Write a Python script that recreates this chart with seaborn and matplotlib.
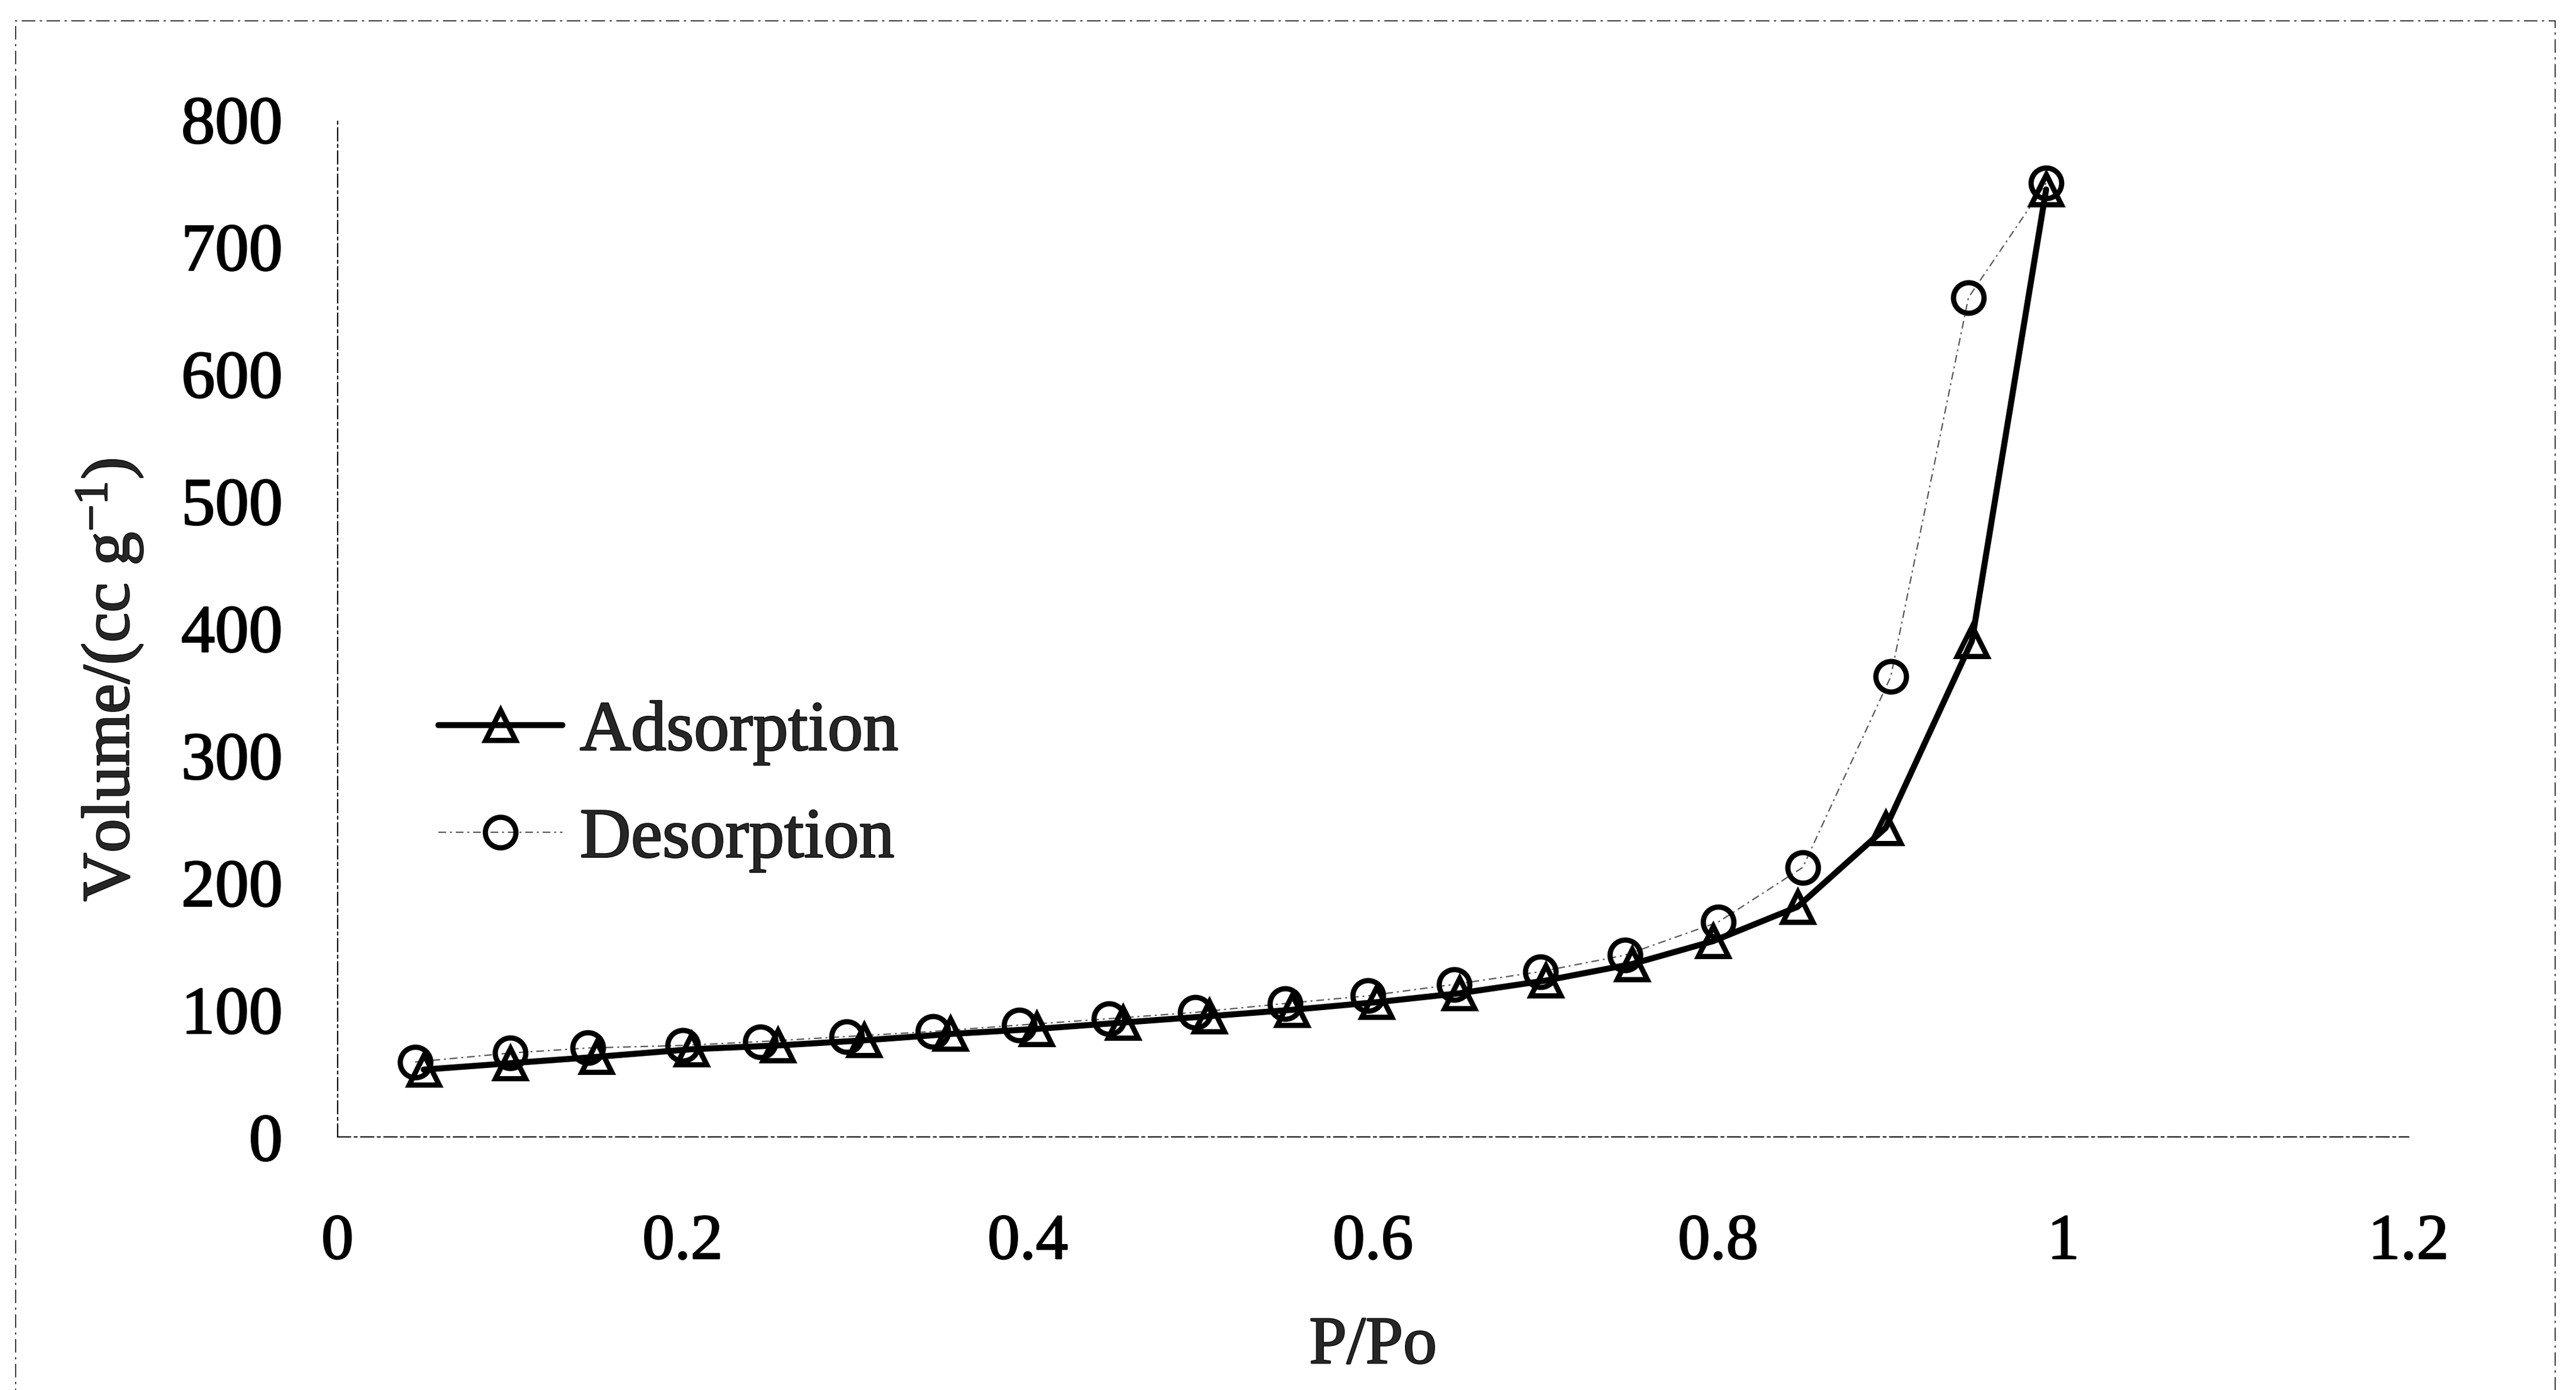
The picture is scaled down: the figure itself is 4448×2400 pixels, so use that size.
import matplotlib
matplotlib.use("Agg")
import matplotlib.pyplot as plt
import matplotlib.patheffects as pe
from matplotlib.patches import Rectangle
import seaborn as sns
import pandas as pd

# Nitrogen isotherm: relative pressure vs adsorbed volume
p_ads = [0.05, 0.10, 0.15, 0.205, 0.255, 0.305, 0.355, 0.405, 0.455, 0.505,
         0.553, 0.602, 0.65, 0.70, 0.75, 0.797, 0.846, 0.897, 0.947, 0.99]
v_ads = [53, 58, 63, 69, 72, 76, 81, 85, 90, 95,
         100, 106, 113, 123, 136, 154, 181, 243, 390, 745]

p_des = [0.045, 0.10, 0.145, 0.20, 0.245, 0.295, 0.345, 0.395, 0.447, 0.497,
         0.549, 0.597, 0.647, 0.697, 0.746, 0.80, 0.849, 0.90, 0.945, 0.99]
v_des = [59, 66, 70, 72, 75, 79, 83, 88, 93, 98,
         105, 111, 120, 130, 143, 169, 212, 362, 660, 750]

x_ticks = [0, 0.2, 0.4, 0.6, 0.8, 1.0, 1.2]
x_tick_labels = ["0", "0.2", "0.4", "0.6", "0.8", "1", "1.2"]
y_ticks = [0, 100, 200, 300, 400, 500, 600, 700, 800]

ads = pd.DataFrame({"P/Po": p_ads, "Volume": v_ads})
des = pd.DataFrame({"P/Po": p_des, "Volume": v_des})

sns.set_style("white")
plt.rcParams["font.family"] = ["Liberation Serif", "DejaVu Serif"]
plt.rcParams["mathtext.fontset"] = "custom"
plt.rcParams["mathtext.rm"] = "Liberation Serif"
plt.rcParams["mathtext.default"] = "regular"

heavy = [pe.withStroke(linewidth=1.8, foreground="black")]

fig = plt.figure(figsize=(44.48, 24), dpi=100)
ax = fig.add_axes([0.131, 0.182, 0.804, 0.732])

sns.lineplot(data=des, x="P/Po", y="Volume", ax=ax, sort=False,
             color="#555555", linewidth=1.6, linestyle=(0, (6, 3, 1.5, 3)),
             marker="o", markersize=38, markerfacecolor="none",
             markeredgecolor="black", markeredgewidth=6.5,
             label="Desorption", zorder=3)
sns.lineplot(data=ads, x="P/Po", y="Volume", ax=ax, sort=False,
             color="black", linewidth=7.5,
             marker="^", markersize=38, markerfacecolor="none",
             markeredgecolor="black", markeredgewidth=6.5,
             label="Adsorption", zorder=4)

ax.set_xlim(0, 1.2)
ax.set_ylim(0, 800)
ax.set_xticks(x_ticks)
ax.set_xticklabels(x_tick_labels)
ax.set_yticks(y_ticks)

for side in ("top", "right"):
    ax.spines[side].set_visible(False)
for side in ("left", "bottom"):
    ax.spines[side].set_color("black")
    ax.spines[side].set_linewidth(1.6)
    ax.spines[side].set_linestyle((0, (10, 3, 2, 3)))

ax.tick_params(axis="x", direction="inout", length=22, width=1.6,
               labelsize=80, pad=85, colors="black")
ax.tick_params(axis="y", direction="out", length=18, width=1.6,
               labelsize=84, pad=50, colors="black")
for lbl in ax.get_xticklabels() + ax.get_yticklabels():
    lbl.set_path_effects(heavy)

ax.set_xlabel("P/Po", fontsize=84, labelpad=55, path_effects=heavy)
ax.set_ylabel("Volume/(cc g$^{-1}$)", fontsize=84, path_effects=heavy)
ax.yaxis.label.set_va("center")
ax.yaxis.set_label_coords(-0.110, 0.449)

handles, labels = ax.get_legend_handles_labels()
order = [labels.index("Adsorption"), labels.index("Desorption")]
leg = ax.legend([handles[i] for i in order], [labels[i] for i in order],
                loc="upper left", bbox_to_anchor=(0.035, 0.457), frameon=False,
                fontsize=88, handlelength=1.75, handletextpad=0.25,
                labelspacing=0.6, borderaxespad=0)
for t in leg.get_texts():
    t.set_path_effects(heavy)

# Thin dashed outline around the whole chart area
fig.patches.append(Rectangle((0.006, -0.02), 0.986, 1.005,
                             transform=fig.transFigure, fill=False,
                             edgecolor="#333333", linewidth=1.4,
                             linestyle=(0, (12, 4, 2, 4))))

fig.savefig("out.png", dpi=100, facecolor="white")
